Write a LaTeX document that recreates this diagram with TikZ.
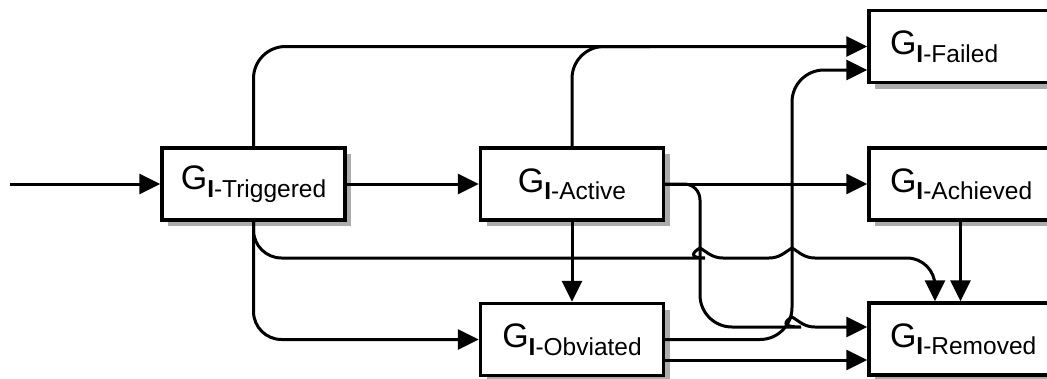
\documentclass[tikz,border=0pt]{standalone}
\usepackage{fontspec}
\setmainfont{Liberation Sans}
\usetikzlibrary{arrows.meta,shadows}
\newcommand\glab[1]{{\fontsize{34}{34}\selectfont G}\raisebox{-7.5pt}{\fontsize{24.5}{24.5}\selectfont\textbf{I}-#1}}
\begin{document}
\begin{tikzpicture}[x=1pt,y=-1pt,
  gbox/.style={draw, line width=3.4pt, fill=white, minimum width=183pt, minimum height=72pt,
    inner sep=0pt, drop shadow={shadow xshift=6pt, shadow yshift=-6pt, fill=gray!65, opacity=1}},
  rbox/.style={gbox, text width=141pt, align=left, inner xsep=21pt},
  conn/.style={line width=3pt, -{Triangle[length=21pt,width=20pt]}},
  plain/.style={line width=3pt}]
\useasboundingbox (0,0) rectangle (1047,378);
\node[gbox] (T) at (253.5,184) {\glab{Triggered}};
\node[gbox] (A) at (572,184) {\glab{Active}};
\node[gbox] (O) at (572,339.5) {\glab{Obviated}};
\node[rbox] (F) at (960.5,46.5) {\glab{Failed}};
\node[rbox] (C) at (960.5,184) {\glab{Achieved}};
\node[rbox] (R) at (960.5,339) {\glab{Removed}};
\coordinate (S) at (10,184);
\coordinate (o2) at ([yshift=-20.5pt]O.east);
% entry and straight links
\draw[conn] (S) -- (T.west);
\draw[conn] (T.east) -- (A.west);
\draw[conn] (A.east) -- (C.west);
\draw[conn] (A.south) -- (O.north);
\draw[conn] (C.south) -- (R.north);
\draw[conn] (o2) -- (o2 -| R.west);
% to Failed (top)
\draw[conn, rounded corners=32pt] (T.north) |- (F.west);
\draw[plain, rounded corners=32pt] (A.north) |- (650,46.5);
% Triggered down to Obviated
\draw[conn, rounded corners=28pt] (T.south) |- (O.west);
% Triggered down to Removed with hops
\draw[conn] (T.south) [rounded corners=28pt] |- (677,258) [sharp corners]
  .. controls (688,258) and (693,252) .. (700,248)
  .. controls (707,252) and (712,258) .. (723,258)
  -- (769,258)
  .. controls (780,258) and (785,252) .. (792,248)
  .. controls (799,252) and (804,258) .. (815,258)
  [rounded corners=28pt] -- (935,258) -- ([xshift=-25.5pt]R.north);
% Active to Removed
\draw[conn] (A.east) -- (684,184) .. controls (693,184) and (700,191) .. (700,200)
  [rounded corners=32pt] -- (700,327) -- (769,327) [sharp corners]
  .. controls (780,327) and (785,321) .. (792,317)
  .. controls (799,321) and (804,327) .. (815,327)
  -- ([yshift=12pt]R.west);
% Obviated to Failed
\draw[conn, rounded corners=32pt] (O.east) -- (792,339.5) -- (792,70) -- ([yshift=-23.5pt]F.west);
\end{tikzpicture}
\end{document}
